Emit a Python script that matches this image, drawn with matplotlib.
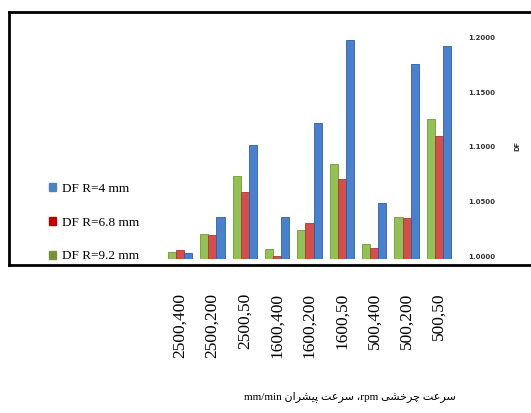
import matplotlib
matplotlib.use('Agg')
import matplotlib.pyplot as plt
from matplotlib.patches import Patch
import numpy as np

# data
categories = ['2500,400', '2500,200', '2500,50', '1600,400', '1600,200',
              '1600,50', '500,400', '500,200', '500,50']
df_r92 = [1.0046, 1.0207, 1.0739, 1.0070, 1.0243, 1.0845, 1.0116, 1.0365, 1.1255]
df_r68 = [1.0060, 1.0198, 1.0593, 1.0003, 1.0304, 1.0708, 1.0082, 1.0356, 1.1100]
df_r4 = [1.0030, 1.0365, 1.1018, 1.0365, 1.1216, 1.1976, 1.0492, 1.1754, 1.1921]
series_labels = ['DF R=4 mm', 'DF R=6.8 mm', 'DF R=9.2 mm']
yticks = [1.0, 1.05, 1.1, 1.15, 1.2]
xlabel_fa = 'سرعت چرخشی rpm، سرعت پیشران mm/min'

# matplotlib has no arabic shaping / bidi, so do a tiny one for this label
FORMS = {  # isolated, final, initial, medial
    'س': ('\ufeb1', '\ufeb2', '\ufeb3', '\ufeb4'),
    'ر': ('\ufead', '\ufeae', '\ufead', '\ufeae'),
    'ع': ('\ufec9', '\ufeca', '\ufecb', '\ufecc'),
    'ت': ('\ufe95', '\ufe96', '\ufe97', '\ufe98'),
    'چ': ('\ufb7a', '\ufb7b', '\ufb7c', '\ufb7d'),
    'خ': ('\ufea5', '\ufea6', '\ufea7', '\ufea8'),
    'ش': ('\ufeb5', '\ufeb6', '\ufeb7', '\ufeb8'),
    'ی': ('\ufbfc', '\ufbfd', '\ufbfe', '\ufbff'),
    'پ': ('\ufb56', '\ufb57', '\ufb58', '\ufb59'),
    'ا': ('\ufe8d', '\ufe8e', '\ufe8d', '\ufe8e'),
    'ن': ('\ufee5', '\ufee6', '\ufee7', '\ufee8'),
}
NO_LEFT_JOIN = set('راد')


def shape_word(w):
    out = []
    for i, c in enumerate(w):
        if c not in FORMS:
            out.append(c)
            continue
        prev_joins = i > 0 and w[i-1] in FORMS and w[i-1] not in NO_LEFT_JOIN
        next_joins = i < len(w)-1 and w[i+1] in FORMS and c not in NO_LEFT_JOIN
        if prev_joins and next_joins:
            out.append(FORMS[c][3])
        elif prev_joins:
            out.append(FORMS[c][1])
        elif next_joins:
            out.append(FORMS[c][2])
        else:
            out.append(FORMS[c][0])
    return ''.join(out)


def rtl(text):
    toks = []
    for t in text.split(' '):
        if any(c in FORMS for c in t):
            toks.append(shape_word(t)[::-1])
        elif t.endswith('،'):
            toks.append('،' + t[:-1])
        else:
            toks.append(t)
    return ' '.join(toks[::-1])


fig = plt.figure(figsize=(5.31, 4.13), dpi=100)
W, H = 531.0, 413.0

# black frame around the plot area (right side runs off the image)
fig.add_artist(plt.Line2D([9/W, 1.0], [1-12/H, 1-12/H], color='black', lw=2))
fig.add_artist(plt.Line2D([9/W, 1.0], [1-265/H, 1-265/H], color='black', lw=2))
fig.add_artist(plt.Line2D([9/W, 9/W], [1-12/H, 1-265/H], color='black', lw=2))

ax = fig.add_axes([163.8/W, 1-259.4/H, 291.4/W, 222.1/H])
x = np.arange(len(categories))
w = 0.25
ax.bar(x - w, df_r92, w, color='#95c055', edgecolor='#6f9a35', lw=0.6)
ax.bar(x, df_r68, w, color='#d2504c', edgecolor='#a83a37', lw=0.6)
ax.bar(x + w, df_r4, w, color='#4a80cc', edgecolor='#2f5f9e', lw=0.6)
ax.set_xlim(-0.5, len(categories) - 0.5)
ax.set_ylim(0.9975, 1.2)
for s in ax.spines.values():
    s.set_visible(False)

ax.yaxis.tick_right()
ax.set_yticks(yticks)
ax.set_yticklabels(['%.4f' % v for v in yticks], fontsize=5, fontweight='bold',
                   color='#333333')
ax.tick_params(axis='y', length=0, pad=9)

ax.set_xticks(x)
ax.set_xticklabels(categories, rotation=90, fontsize=12.5, family='Liberation Serif')
ax.tick_params(axis='x', length=0, pad=24)

fig.text(517/W, 1-146/H, 'DF', rotation=90, fontsize=4.8, fontweight='bold',
         color='#333333', ha='center', va='center')

handles = [Patch(color='#4f81bd'), Patch(color='#c00000'), Patch(color='#77933c')]
fig.legend(handles, series_labels, loc='upper left', bbox_to_anchor=(42/W, 1-176/H),
           frameon=False, prop={'family': 'Liberation Serif', 'size': 9.5},
           handlelength=0.55, handleheight=0.55, handletextpad=0.45,
           labelspacing=1.66, borderpad=0)

fig.text(350/W, 1-397/H, rtl(xlabel_fa), fontsize=8,
         family=['Liberation Serif', 'DejaVu Sans'], ha='center', va='center')

fig.savefig('out.png', dpi=100)
